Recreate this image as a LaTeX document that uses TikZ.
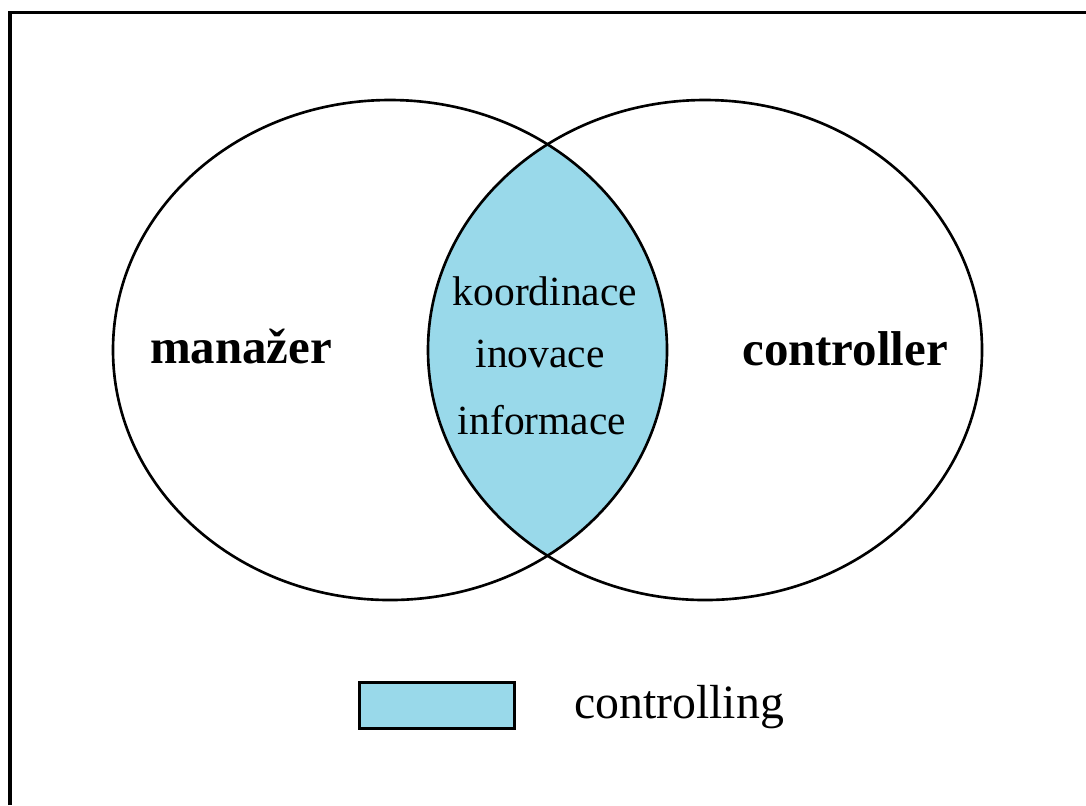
\documentclass[tikz,border=0pt]{standalone}
\usepackage{fontspec}
\setmainfont{Liberation Serif}
\usetikzlibrary{positioning}
\definecolor{lensblue}{RGB}{153,217,234}

\begin{document}
\begin{tikzpicture}[x=0.01cm,y=-0.01cm,line width=0.75pt,
                    set name/.style={anchor=base,font=\fontsize{13.9}{16}\selectfont\bfseries},
                    item/.style={anchor=base,font=\fontsize{11.8}{14}\selectfont},
                    key box/.style={draw,line width=0.85pt,fill=lensblue,minimum width=1.54cm,minimum height=0.46cm,inner sep=0pt}]
        \useasboundingbox (0,0) rectangle (1086,805);

        % frame, only top and left edge
        \draw[line width=1.1pt] (10,805) -- (10,12.5) -- (1086,12.5);

        % overlap of the two sets
        \begin{scope}
            \clip (390,350) ellipse [x radius=277, y radius=250];
            \fill[lensblue] (705,350) ellipse [x radius=277, y radius=250];
        \end{scope}
        \draw (390,350) ellipse [x radius=277, y radius=250];
        \draw (705,350) ellipse [x radius=277, y radius=250];

        \node[set name] (m) at (241,363) {manažer};
        \node[set name] (c) at (845,365) {controller};

        \node[item] (1) at (545,305) {koordinace};
        \node[item] (2) at (540,367) {inovace};
        \node[item] (3) at (542,434) {informace};

        % legend
        \node[key box] (key) at (437,705) {};
        \node[item,font=\fontsize{13.6}{16}\selectfont] (ctl) at (679,718) {controlling};
\end{tikzpicture}
\end{document}
